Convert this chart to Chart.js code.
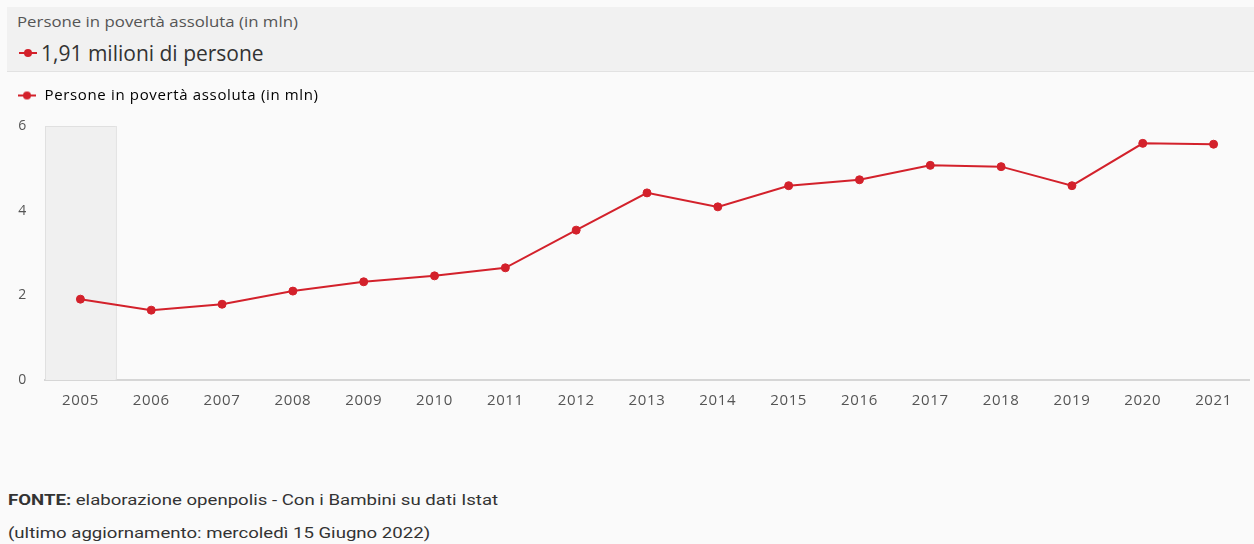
<!DOCTYPE html>
<html>
<head>
<meta charset="utf-8">
<script src="https://cdn.jsdelivr.net/npm/chart.js@4"></script>
<style>
    body { margin: 0; width: 1254px; height: 544px; background: #fafafa; position: relative; overflow: hidden; font-family: "Open Sans", sans-serif; }
    #head { position: absolute; left: 7px; top: 7px; right: 0; height: 64px; background: #f1f1f1; border-bottom: 1px solid #e2e2e2; }
    #head .sub { position: absolute; left: 10px; top: 5px; font-size: 14px; color: #555; transform: scaleX(1.2); transform-origin: left center; white-space: nowrap; }
    #head .big { position: absolute; left: 11px; top: 32px; font-size: 21px; color: #333; display: flex; align-items: center; white-space: nowrap; }
    #head .big canvas { margin-right: 3px; }
    #wrap { position: absolute; left: 0; top: 71px; width: 1254px; height: 351px; }
    #foot { position: absolute; left: 8px; top: 484px; font-family: Roboto, sans-serif; font-size: 15.5px; color: #333; line-height: 33px; transform: scaleX(1.2); transform-origin: left top; white-space: nowrap; }
</style>
</head>
<body>
<div id="head">
    <div class="sub">Persone in povertà assoluta (in mln)</div>
    <div class="big"><canvas id="mk" width="20" height="12"></canvas>1,91 milioni di persone</div>
</div>
<div id="wrap"><canvas id="lineChart"></canvas></div>
<div id="foot">
    <div><b>FONTE:</b> elaborazione openpolis - Con i Bambini su dati Istat</div>
    <div>(ultimo aggiornamento: mercoledì 15 Giugno 2022)</div>
</div>
<script>
const years = ['2005', '2006', '2007', '2008', '2009', '2010', '2011', '2012', '2013',
    '2014', '2015', '2016', '2017', '2018', '2019', '2020', '2021'];
const persone = [1.91, 1.65, 1.79, 2.10, 2.32, 2.46, 2.65, 3.54, 4.42,
    4.09, 4.59, 4.73, 5.07, 5.04, 4.59, 5.59, 5.57];
const yTicks = [0, 2, 4, 6];
const seriesLabel = 'Persone in povertà assoluta (in mln)';
const red = '#d3212b';

function makeMarker(c) {
    const ctx = c.getContext('2d');
    ctx.strokeStyle = red;
    ctx.fillStyle = red;
    ctx.lineWidth = 2;
    ctx.beginPath();
    ctx.moveTo(1, c.height / 2);
    ctx.lineTo(c.width - 1, c.height / 2);
    ctx.stroke();
    ctx.beginPath();
    ctx.arc(c.width / 2, c.height / 2, 4, 0, Math.PI * 2);
    ctx.fill();
    return c;
}
makeMarker(document.getElementById('mk'));
const legendIcon = document.createElement('canvas');
legendIcon.width = 20;
legendIcon.height = 12;
makeMarker(legendIcon);

// wider text, like the original
const spacing = {
    id: 'spacing',
    beforeLayout(chart) { chart.ctx.letterSpacing = '0.65px'; },
    beforeDraw(chart) { chart.ctx.letterSpacing = '0.65px'; }
};

// more room under the legend
const legendGap = {
    id: 'legendGap',
    beforeInit(chart) {
        const fit = chart.legend.fit;
        chart.legend.fit = function () {
            fit.bind(chart.legend)();
            this.height += 13;
        };
    }
};

// grey band behind the selected year
const highlight = {
    id: 'highlight',
    beforeDatasetsDraw(chart) {
        const x = chart.scales.x;
        const area = chart.chartArea;
        const ctx = chart.ctx;
        const half = (x.getPixelForValue(1) - x.getPixelForValue(0)) / 2;
        const left = x.getPixelForValue(0) - half;
        ctx.save();
        ctx.fillStyle = '#f0f0f0';
        ctx.fillRect(left, area.top, half * 2, area.bottom - area.top);
        ctx.strokeStyle = '#e0e0e0';
        ctx.lineWidth = 1;
        ctx.beginPath();
        ctx.moveTo(left + 0.5, area.top);
        ctx.lineTo(left + 0.5, area.bottom);
        ctx.moveTo(left + half * 2 + 0.5, area.top);
        ctx.lineTo(left + half * 2 + 0.5, area.bottom);
        ctx.moveTo(left, area.top + 0.5);
        ctx.lineTo(left + half * 2, area.top + 0.5);
        ctx.stroke();
        ctx.restore();
    }
};

new Chart(document.getElementById('lineChart'), {
    type: 'line',
    data: {
        labels: years,
        datasets: [{
            label: seriesLabel,
            data: persone,
            borderColor: red,
            backgroundColor: red,
            borderWidth: 2,
            pointRadius: 4,
            pointBorderWidth: 1,
            pointHoverRadius: 4,
            pointStyle: 'circle',
            tension: 0
        }]
    },
    options: {
        responsive: true,
        maintainAspectRatio: false,
        animation: false,
        layout: { padding: { left: 0, right: 4, top: 0, bottom: 0 } },
        plugins: {
            tooltip: { enabled: false },
            legend: {
                display: true,
                position: 'top',
                align: 'start',
                labels: {
                    usePointStyle: true,
                    pointStyle: legendIcon,
                    pointStyleWidth: 20,
                    color: '#555',
                    font: { family: '"Open Sans", sans-serif', size: 15 },
                    padding: 17,
                    generateLabels(chart) {
                        return [{
                            text: seriesLabel,
                            pointStyle: legendIcon,
                            fillStyle: red,
                            strokeStyle: red,
                            lineWidth: 0,
                            datasetIndex: 0
                        }];
                    }
                }
            }
        },
        scales: {
            x: {
                offset: true,
                grid: { display: false, drawTicks: false },
                border: { display: true, color: '#d6d6d6', width: 2 },
                ticks: {
                    color: '#555',
                    padding: 12,
                    maxRotation: 0,
                    autoSkip: false,
                    font: { family: '"Open Sans", sans-serif', size: 15 }
                }
            },
            y: {
                min: 0,
                max: 6,
                afterBuildTicks(scale) {
                    scale.ticks = yTicks.map(v => ({ value: v }));
                },
                afterFit(scale) { scale.width = 45; },
                grid: { display: false, drawTicks: false },
                border: { display: false },
                ticks: {
                    color: '#555',
                    padding: 18,
                    font: { family: '"Open Sans", sans-serif', size: 14 }
                }
            }
        }
    },
    plugins: [spacing, legendGap, highlight]
});
</script>
</body>
</html>
